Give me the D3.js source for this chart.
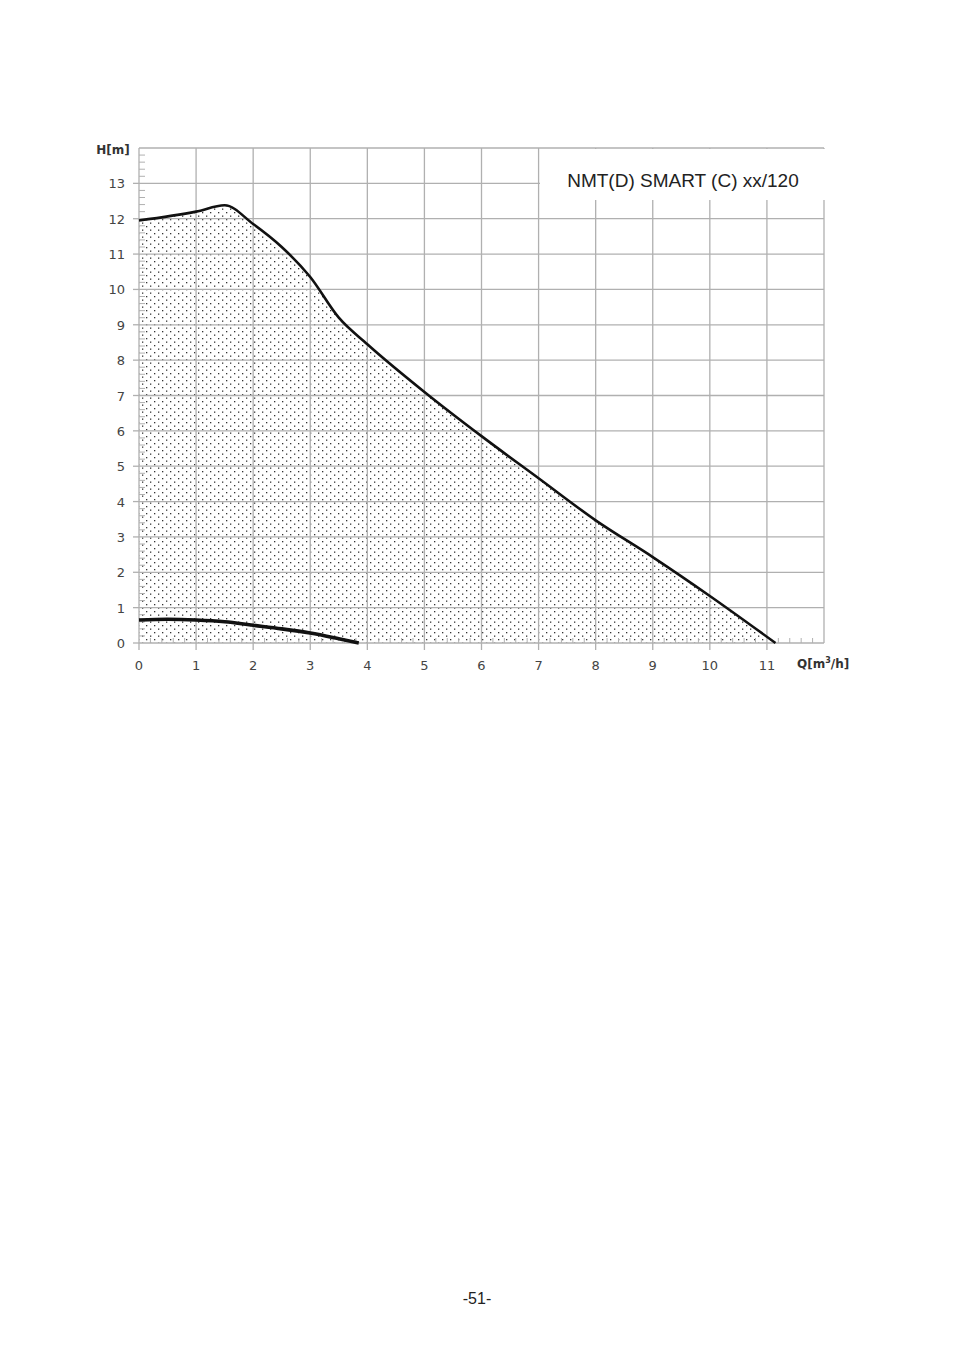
<!DOCTYPE html>
<html><head><meta charset="utf-8">
<script src="https://cdn.jsdelivr.net/npm/d3@7"></script>
<style>body{margin:0;background:#fff}</style></head>
<body><svg id="c" width="954" height="1354"></svg>
<script>
const title = "NMT(D) SMART (C) xx/120";
const xTicks = [0,1,2,3,4,5,6,7,8,9,10,11];
const yTicks = [0,1,2,3,4,5,6,7,8,9,10,11,12,13];
const maxQ = [0,1,1.5,2,2.5,3,3.5,4,5,6,7,8,9,10,11.15];
const maxH = [11.95,12.2,12.38,11.85,11.2,10.35,9.2,8.45,7.1,5.85,4.66,3.47,2.43,1.33,0];
const minQ = [0,0.5,1,1.5,2,2.5,3,3.5,3.85];
const minH = [0.65,0.67,0.65,0.6,0.5,0.4,0.28,0.12,0];

const svg = d3.select("#c");
const x = d3.scaleLinear().domain([0,12]).range([139,824]);
const y = d3.scaleLinear().domain([0,14]).range([643,148]);
const gridC = "#b0b0b0", font = "Verdana, DejaVu Sans, sans-serif";

const defs = svg.append("defs");
const pat = defs.append("pattern").attr("id","dots").attr("patternUnits","userSpaceOnUse")
  .attr("width",8).attr("height",7);
pat.append("rect").attr("x",2).attr("y",2).attr("width",1.3).attr("height",1.3).attr("fill","#333");
pat.append("rect").attr("x",6).attr("y",5.5).attr("width",1.3).attr("height",1.3).attr("fill","#333");

const g = svg.append("g");
// dotted area
g.append("path").datum(maxQ.map((q,i)=>[q,maxH[i]]))
  .attr("d", d3.area().x(d=>x(d[0])).y0(y(0)).y1(d=>y(d[1])).curve(d3.curveMonotoneX))
  .attr("fill","url(#dots)");
// grid
g.selectAll(".vx").data(xTicks.concat([12])).join("line").attr("x1",d=>x(d)).attr("x2",d=>x(d))
  .attr("y1",y(0)).attr("y2",y(14)).attr("stroke",gridC).attr("stroke-width",1.3);
g.selectAll(".hy").data(yTicks.concat([14])).join("line").attr("y1",d=>y(d)).attr("y2",d=>y(d))
  .attr("x1",x(0)).attr("x2",x(12)).attr("stroke",gridC).attr("stroke-width",1.3);
// minor ticks
const minorY = d3.range(0,14,0.2).filter(v=>Math.abs(v-Math.round(v))>0.01);
g.selectAll(".my").data(minorY).join("line").attr("y1",d=>y(d)).attr("y2",d=>y(d))
  .attr("x1",x(0)).attr("x2",x(0)+6).attr("stroke",gridC);
const minorX = d3.range(0,12,0.2).filter(v=>Math.abs(v-Math.round(v))>0.01);
g.selectAll(".mx").data(minorX).join("line").attr("x1",d=>x(d)).attr("x2",d=>x(d))
  .attr("y1",y(0)).attr("y2",y(0)-5).attr("stroke",gridC);
// major tick stubs
g.selectAll(".ty").data(yTicks).join("line").attr("y1",d=>y(d)).attr("y2",d=>y(d))
  .attr("x1",x(0)-6).attr("x2",x(0)).attr("stroke",gridC).attr("stroke-width",1.3);
g.selectAll(".tx").data(xTicks).join("line").attr("x1",d=>x(d)).attr("x2",d=>x(d))
  .attr("y1",y(0)).attr("y2",y(0)+7).attr("stroke",gridC).attr("stroke-width",1.3);

// labels
g.selectAll(".ly").data(yTicks).join("text").attr("x",x(0)-14).attr("y",d=>y(d)+5)
  .attr("text-anchor","end").attr("font-family",font).attr("font-size",13).attr("fill","#444").text(d=>d);
g.selectAll(".lx").data(xTicks).join("text").attr("x",d=>x(d)).attr("y",y(0)+27)
  .attr("text-anchor","middle").attr("font-family",font).attr("font-size",13).attr("fill","#444").text(d=>d);
g.append("text").attr("x",113).attr("y",154).attr("text-anchor","middle").attr("font-family",font)
  .attr("font-size",12).attr("font-weight","bold").attr("fill","#333").text("H[m]");
const ql = g.append("text").attr("x",797).attr("y",668).attr("font-family",font)
  .attr("font-size",12).attr("font-weight","bold").attr("fill","#333");
ql.append("tspan").text("Q[m");
ql.append("tspan").attr("font-size",8).attr("dy",-5).text("3");
ql.append("tspan").attr("dy",5).text("/h]");

// curves
const line = d3.line().x(d=>x(d[0])).y(d=>y(d[1])).curve(d3.curveMonotoneX);
g.append("path").datum(maxQ.map((q,i)=>[q,maxH[i]])).attr("d",line)
  .attr("fill","none").attr("stroke","#111").attr("stroke-width",2.6);
g.append("path").datum(minQ.map((q,i)=>[q,minH[i]])).attr("d",line)
  .attr("fill","none").attr("stroke","#111").attr("stroke-width",3.6);

// legend box
g.append("rect").attr("x",540).attr("y",149).attr("width",285).attr("height",51).attr("fill","#fff");
g.append("text").attr("x",683).attr("y",187).attr("text-anchor","middle")
  .attr("font-family","Arial, Liberation Sans, sans-serif").attr("font-size",19).attr("fill","#222").text(title);

svg.append("text").attr("x",477).attr("y",1304).attr("text-anchor","middle")
  .attr("font-family","Arial, Liberation Sans, sans-serif").attr("font-size",16).attr("fill","#222").text("-51-");
</script></body></html>
